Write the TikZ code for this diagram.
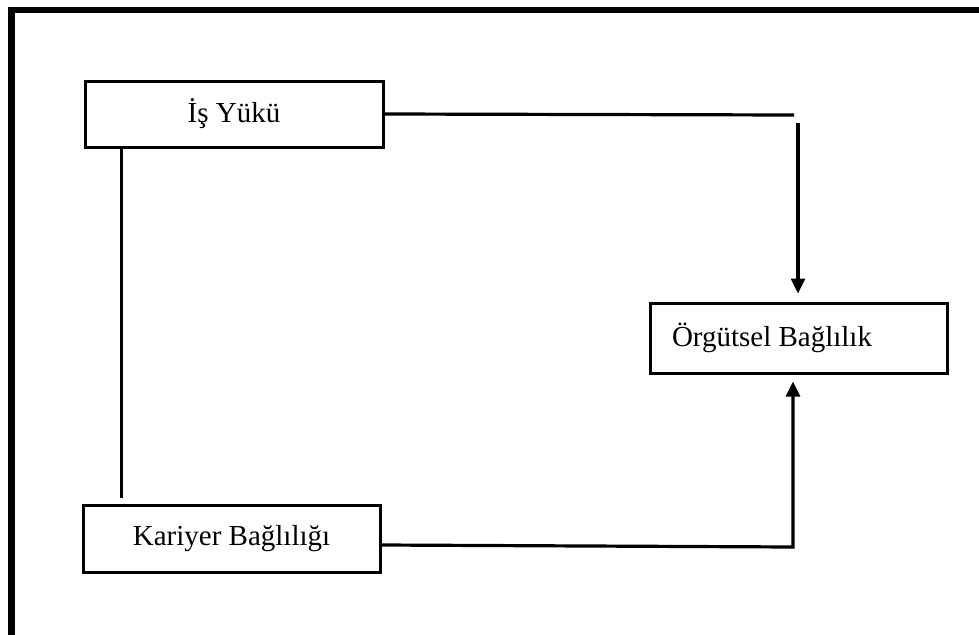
\documentclass[tikz,border=0pt]{standalone}
\usepackage{fontspec}
\setmainfont{Liberation Serif}
\usetikzlibrary{arrows.meta}
\begin{document}
\begin{tikzpicture}[x=1pt,y=-1pt,
  box/.style={draw=black,line width=3pt,fill=white,inner sep=0pt,
    font=\fontsize{29}{34}\selectfont},
  conn/.style={line width=3.2pt,draw=black},
  arr/.style={conn,-{Triangle[length=15pt,width=14pt]}},
  frame/.style={line width=6.5pt,draw=black}]
\useasboundingbox (0,0) rectangle (979,634);
\draw[frame] (11.5,640) -- (11.5,10) -- (985,10);
\node[box,minimum width=298pt,minimum height=66pt] (is) at (234,114) {İş Yükü};
\node[box,minimum width=297pt,minimum height=67pt] (kar) at (231.5,538.5) {Kariyer Bağlılığı};
\node[box,minimum width=297pt,minimum height=70pt,text width=253pt,
  inner xsep=22pt,align=flush left] (org) at (798.5,338) {Örgütsel Bağlılık};
\coordinate (c1) at (794,115);
\coordinate (c2) at (798,123);
\coordinate (c4) at (793,547);
\coordinate (c5) at (121.5,498);
\draw[conn] (is.east) -- (c1);
\draw[arr,shorten >=8pt] (c2) -- (c2 |- org.north);
\draw[arr,shorten >=7pt] ([yshift=-6.5pt]kar.east) -- (c4) -- (c4 |- org.south);
\draw[conn] (c5 |- is.south) -- (c5);
\end{tikzpicture}
\end{document}
